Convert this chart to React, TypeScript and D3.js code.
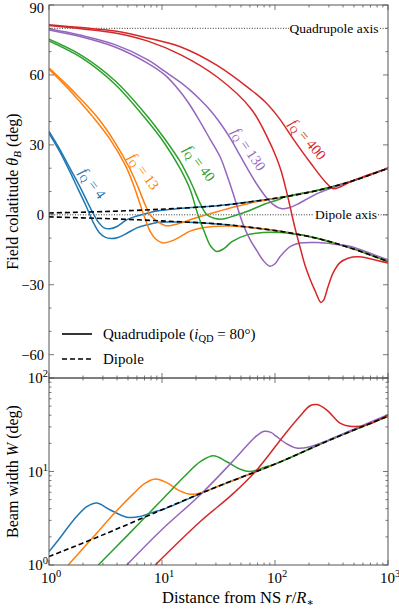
import * as d3 from "d3";

type P = [number, number];

// top panel: [r / R*, field colatitude theta_B (deg)]
const dipoleUpper: P[] = [[1, 0.8], [3.1, 1.4], [9.8, 2.4], [31, 3.9], [61, 5.6], [122, 7.7], [240, 10.5], [470, 14.3], [1000, 20]];
const dipoleLower: P[] = [[1, -0.9], [3.1, -1.6], [9.8, -2.6], [31, -3.9], [61, -5.4], [122, -7.4], [240, -10.2], [470, -14.3], [1000, -20]];

const blueOuter: P[] = [[1, 35], [1.25, 27], [1.53, 18.5], [1.81, 11], [2.12, 4], [2.45, -3], [2.77, -7.5], [3.13, -9.6], [3.54, -10.2], [4.08, -9.7], [4.9, -7.9], [6.0, -5.6], [7.4, -4.3], [9.6, -3.2], [13, -3.1]];
const blueInner: P[] = [[1, 35.8], [1.25, 28], [1.53, 20], [1.88, 12], [2.21, 5], [2.5, 0], [2.77, -3.5], [3.07, -5.6], [3.46, -6], [4.0, -5], [4.9, -2.1], [6.0, -0.5], [7.4, 0.7], [9.6, 1.8], [13, 2.5], [19.6, 3.2]];

const orangeOuter: P[] = [[1, 62.5], [1.39, 55.5], [1.88, 48.5], [2.45, 42], [3.46, 32.5], [4.71, 21.5], [5.53, 13.5], [6.25, 6], [7.07, -1.5], [7.83, -7], [8.84, -10.5], [10.2, -12.1], [12, -11.3], [14.4, -9.5], [17.7, -7], [21.7, -5.8], [28.2, -5], [40, -4.8]];
const orangeInner: P[] = [[1, 63], [1.39, 56.5], [1.88, 50], [2.71, 41.5], [3.84, 31], [5.1, 20.5], [6.13, 12], [7.07, 4.5], [7.99, -0.5], [9.2, -3], [10.8, -4.7], [13, -4.2], [16.9, -2.5], [21.7, -0.7], [31, 1.4], [44.3, 3.5], [60, 5.0], [73.7, 5.9]];

const greenOuter: P[] = [[1, 74.6], [1.92, 67.5], [3.84, 56], [7.5, 40], [10.6, 30.5], [14.4, 20], [17.7, 11], [20.8, 0], [24, -8], [27, -13.5], [30.6, -15.7], [35.3, -14.5], [41.6, -11.5], [56.5, -8.6], [78.4, -7.6], [111, -7.6], [166, -8.6], [226, -9.8]];
const greenInner: P[] = [[1, 75.3], [1.92, 68.5], [3.84, 57.5], [7.5, 42], [10.6, 32.5], [14.4, 23], [18.4, 13], [21.7, 5], [25, 0], [28.9, -1.5], [34.5, -1.8], [44.3, -0.3], [56.5, 1.4], [78.4, 4.3], [111, 6.8]];

const purpleOuter: P[] = [[1, 79.3], [1.92, 76.4], [3.84, 72], [7.5, 65], [10.6, 60], [14.4, 53], [17.7, 47], [21.7, 40], [26.6, 32.5], [32.6, 25], [37.6, 17], [42.4, 9.5], [47, 2.5], [52.1, -4], [60, -10.5], [69.3, -15.5], [78.4, -19.5], [90.3, -22.1], [100, -21], [111, -17.9], [136, -13.6], [166, -12.1], [240, -11.9], [340, -12.6], [470, -13.6], [694, -16.5], [1000, -19.3]];
const purpleInner: P[] = [[1, 79.8], [1.92, 77], [3.84, 73], [7.5, 66.5], [10.6, 61.5], [14.4, 57], [17.7, 53.5], [21.7, 49.5], [26.6, 45], [32.6, 39.5], [40, 33], [49, 25.5], [60, 18], [69.3, 13], [85.2, 7], [96, 4.5], [113, 2.7], [133, 3.0], [157, 4.5], [204, 7.5], [250, 9.6], [313, 11.4]];

const redOuter: P[] = [[1, 81.2], [1.92, 79.8], [3.84, 78], [7.5, 74.5], [14.7, 68.6], [31, 59], [61.3, 45.5], [87, 32.5], [102, 25], [113, 19], [125, 11], [136, 3.5], [150, -5.5], [166, -13.6], [184, -21.5], [204, -27.5], [226, -32.5], [255, -37.6], [270, -36.5], [294, -31], [326, -25], [376, -20.5], [443, -18.6], [540, -18], [694, -18.8], [1000, -20.7]];
const redInner: P[] = [[1, 81.5], [1.92, 80.3], [3.84, 78.8], [7.5, 75.8], [14.7, 72], [31, 64], [61.3, 53.6], [81.6, 48.5], [106.6, 42], [150, 31.5], [208, 22], [277, 14.3], [326, 11.2], [376, 11.9]];

// bottom panel: [r / R*, beam width W (deg)]
const dipoleW: P[] = [[1, 1.23], [3, 2.1], [10, 3.9], [30, 6.8], [100, 12], [300, 21.5], [1000, 39]];
const blueW: P[] = [[1, 1.39], [1.21, 1.85], [1.64, 3.0], [2.16, 4.2], [2.64, 4.6], [3.46, 3.9], [4.87, 3.25], [6.38, 3.3], [8.5, 3.7]];
const orangeW: P[] = [[1.48, 1], [2.47, 2], [3.97, 3.8], [5.6, 5.8], [7.0, 7.4], [8.7, 8.3], [11, 7.6], [14.4, 6.2], [18, 5.7], [23, 6.0]];
const greenW: P[] = [[2.73, 1], [5, 2.1], [10, 5], [16, 9], [22, 12.8], [28.5, 14.7], [37, 12.8], [49, 10.6], [60, 10], [84, 11.3]];
const purpleW: P[] = [[4.87, 1], [10, 2.4], [21.7, 5.6], [42.6, 13], [60, 20.5], [70, 24.5], [80, 26.9], [92, 26.2], [103, 23.7], [125, 20], [155, 17.8], [200, 18.3], [300, 21.8], [470, 27.5], [1000, 40.4]];
const redW: P[] = [[8.7, 1], [21.7, 2.9], [42.6, 5.8], [69, 10.4], [118, 23.7], [166, 38.9], [204, 50.5], [235, 52], [286, 45.7], [376, 33], [460, 30.5], [650, 31.5], [1000, 40.4]];

const fqValues = ["4", "13", "40", "130", "400"];
// where each f_Q label sits, in data units [r, theta]
const fqLabelAt: P[] = [[2.4, 13.3], [6.8, 18.4], [21.2, 21.9], [57.7, 27.9], [192, 32.1]];

const thetaTicks = d3.range(-70, 91, 10);

// curves join the dipole once they merge with it
const join = (a: P[], tail: P[]): P[] => [...a, ...tail.filter((d) => d[0] > a[a.length - 1][0])];

const colors = ["#1f77b4", "#ff7f0e", "#2ca02c", "#9467bd", "#d62728"];
const series = [
  { top: [join(blueOuter, dipoleLower), join(blueInner, dipoleUpper)], bot: join(blueW, dipoleW) },
  { top: [join(orangeOuter, dipoleLower), join(orangeInner, dipoleUpper)], bot: join(orangeW, dipoleW) },
  { top: [join(greenOuter, dipoleLower), join(greenInner, dipoleUpper)], bot: join(greenW, dipoleW) },
  { top: [purpleOuter, join(purpleInner, dipoleUpper)], bot: purpleW },
  { top: [redOuter, join(redInner, dipoleUpper)], bot: redW },
];
const labelAngles = [54, 54, 53, 56, 50];

const WIDTH = 399;
const HEIGHT = 609;
const L = 49, R = 388, T = 5, MID = 378, B = 565;

const x = d3.scaleLog().domain([1, 1000]).range([L, R]);
const yTop = d3.scaleLinear().domain([-70, 90]).range([MID, T]);
const yBot = d3.scaleLog().domain([1, 100]).range([B, MID]);

const smooth = d3.curveCatmullRom.alpha(0.5);
const topLine = d3.line<P>().x((d) => x(d[0])).y((d) => yTop(d[1])).curve(smooth);
const botLine = d3.line<P>().x((d) => x(d[0])).y((d) => yBot(d[1])).curve(smooth);

const isDecade = (v: number) => Math.abs(Math.log10(v) - Math.round(Math.log10(v))) < 1e-9;

const font = "'Liberation Serif', 'Times New Roman', 'DejaVu Serif', serif";
const axisColor = "#555";

function XTicks({ y, dir }: { y: number; dir: number }) {
  return (
    <g stroke={axisColor} strokeWidth={0.8}>
      {x.ticks().map((t, i) => {
        const len = isDecade(t) ? 5 : 2.5;
        return <line key={i} x1={x(t)} x2={x(t)} y1={y} y2={y + dir * len} />;
      })}
    </g>
  );
}

function YTicks({ vals, scale, major }: { vals: number[]; scale: (v: number) => number; major: (v: number) => boolean }) {
  return (
    <g stroke={axisColor} strokeWidth={0.8}>
      {vals.map((v, i) => {
        const len = major(v) ? 5 : 2.5;
        const yy = scale(v);
        return (
          <g key={i}>
            <line x1={L} x2={L + len} y1={yy} y2={yy} />
            <line x1={R} x2={R - len} y1={yy} y2={yy} />
          </g>
        );
      })}
    </g>
  );
}

function Pow({ x: px, y: py, e, anchor }: { x: number; y: number; e: number; anchor: string }) {
  return (
    <text x={px} y={py} textAnchor={anchor} fontSize={15}>
      10
      <tspan dy={-6} fontSize={10.5}>
        {e}
      </tspan>
    </text>
  );
}

export default function App() {
  return (
    <svg
      width={WIDTH}
      height={HEIGHT}
      style={{ position: "absolute", left: 0, top: 0, background: "#fff" }}
      fontFamily={font}
    >
      <defs>
        <clipPath id="clipTop">
          <rect x={L} y={T} width={R - L} height={MID - T} />
        </clipPath>
        <clipPath id="clipBot">
          <rect x={L} y={MID} width={R - L} height={B - MID} />
        </clipPath>
      </defs>

      {/* ---------- top panel ---------- */}
      <g clipPath="url(#clipTop)">
        <line x1={L} x2={289} y1={yTop(80)} y2={yTop(80)} stroke="#000" strokeWidth={0.8} strokeDasharray="1,1.6" />
        <line x1={380} x2={R} y1={yTop(80)} y2={yTop(80)} stroke="#000" strokeWidth={0.8} strokeDasharray="1,1.6" />
        <line x1={L} x2={313} y1={yTop(0)} y2={yTop(0)} stroke="#000" strokeWidth={0.8} strokeDasharray="1,1.6" />
        <line x1={378} x2={R} y1={yTop(0)} y2={yTop(0)} stroke="#000" strokeWidth={0.8} strokeDasharray="1,1.6" />
        {series.map((s, i) =>
          s.top.map((pts, j) => (
            <path key={`${i}-${j}`} d={topLine(pts) ?? ""} fill="none" stroke={colors[i]} strokeWidth={1.5} />
          ))
        )}
        {[dipoleUpper, dipoleLower].map((pts, j) => (
          <path key={j} d={topLine(pts) ?? ""} fill="none" stroke="#000" strokeWidth={1.6} strokeDasharray="5,3" />
        ))}
      </g>
      <text x={334} y={yTop(80) + 5} textAnchor="middle" fontSize={13.5}>
        Quadrupole axis
      </text>
      <text x={346} y={yTop(0) + 4.5} textAnchor="middle" fontSize={13.5}>
        Dipole axis
      </text>

      {fqValues.map((v, i) => (
        <text
          key={v}
          transform={`translate(${x(fqLabelAt[i][0])},${yTop(fqLabelAt[i][1])}) rotate(${labelAngles[i]})`}
          textAnchor="middle"
          dy={4}
          fontSize={14.5}
          fill={colors[i]}
        >
          <tspan fontStyle="italic">f</tspan>
          <tspan fontSize={10} dy={3}>
            Q
          </tspan>
          <tspan dy={-3}>{` = ${v}`}</tspan>
        </text>
      ))}

      {/* legend */}
      <line x1={62} x2={92} y1={334} y2={334} stroke="#000" strokeWidth={1.6} />
      <text x={103} y={339} fontSize={15}>
        Quadrudipole (<tspan fontStyle="italic">i</tspan>
        <tspan fontSize={10.5} dy={3}>
          QD
        </tspan>
        <tspan dy={-3}> = 80°)</tspan>
      </text>
      <line x1={62} x2={92} y1={359} y2={359} stroke="#000" strokeWidth={1.6} strokeDasharray="5,3" />
      <text x={103} y={364} fontSize={15}>
        Dipole
      </text>

      <rect x={L} y={T} width={R - L} height={MID - T} fill="none" stroke={axisColor} strokeWidth={1} />
      <XTicks y={T} dir={1} />
      <XTicks y={MID} dir={-1} />
      <YTicks vals={thetaTicks} scale={yTop} major={(v) => v % 30 === 0} />
      {thetaTicks
        .filter((v) => v % 30 === 0)
        .map((v) => (
          <text key={v} x={44} y={yTop(v) + (v === 90 ? 7.5 : 5.5)} textAnchor="end" fontSize={14.5}>
            {v < 0 ? `\u2212${-v}` : v}
          </text>
        ))}

      {/* ---------- bottom panel ---------- */}
      <g clipPath="url(#clipBot)">
        {series.map((s, i) => (
          <path key={i} d={botLine(s.bot) ?? ""} fill="none" stroke={colors[i]} strokeWidth={1.5} />
        ))}
        <path d={botLine(dipoleW) ?? ""} fill="none" stroke="#000" strokeWidth={1.6} strokeDasharray="5,3" />
      </g>
      <rect x={L} y={MID} width={R - L} height={B - MID} fill="none" stroke={axisColor} strokeWidth={1} />
      <XTicks y={MID} dir={1} />
      <XTicks y={B} dir={-1} />
      <YTicks vals={yBot.ticks()} scale={yBot} major={isDecade} />
      {yBot
        .ticks()
        .filter(isDecade)
        .map((v) => (
          <Pow key={v} x={48} y={yBot(v) + 5} e={Math.round(Math.log10(v))} anchor="end" />
        ))}
      {x
        .ticks()
        .filter(isDecade)
        .map((v) => (
          <Pow key={v} x={x(v) + 2} y={583} e={Math.round(Math.log10(v))} anchor="middle" />
        ))}

      {/* axis titles */}
      <text transform={`translate(18,${(T + MID) / 2}) rotate(-90)`} textAnchor="middle" fontSize={16}>
        Field colatitude{"  "}
        <tspan fontStyle="italic">θ</tspan>
        <tspan fontStyle="italic" fontSize={11} dy={3}>
          B
        </tspan>
        <tspan dy={-3}> (deg)</tspan>
      </text>
      <text transform={`translate(18,${(MID + B) / 2}) rotate(-90)`} textAnchor="middle" fontSize={16}>
        Beam width{"  "}
        <tspan fontStyle="italic">W</tspan> (deg)
      </text>
      <text x={238} y={603} textAnchor="middle" fontSize={16.5}>
        Distance from NS{"  "}
        <tspan fontStyle="italic">r</tspan>/<tspan fontStyle="italic">R</tspan>
        <tspan fontSize={11} dy={3}>
          ∗
        </tspan>
      </text>
    </svg>
  );
}
